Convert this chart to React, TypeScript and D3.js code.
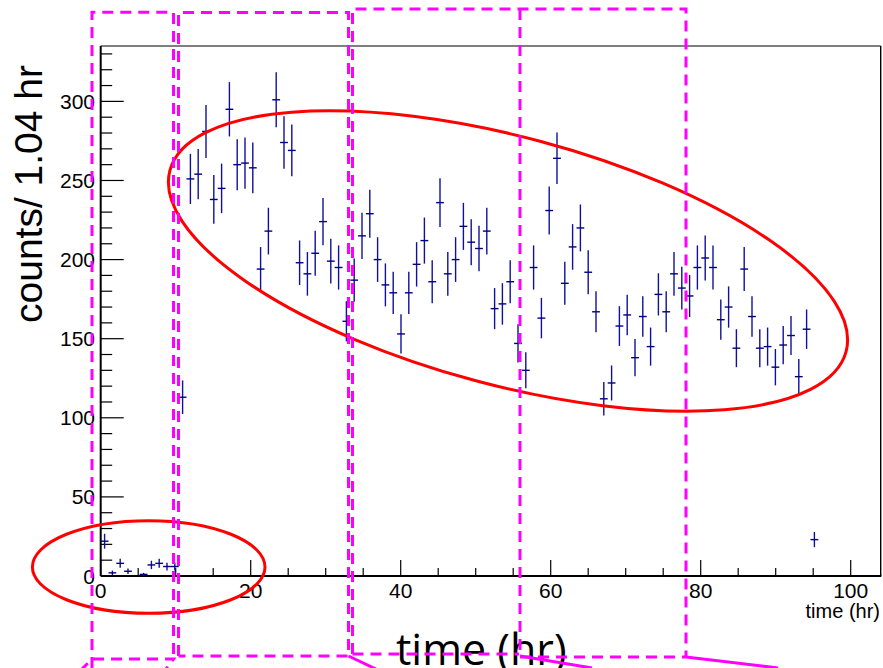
import React from "react";
import * as d3 from "d3";

// Histogram: counts per 1.04 hr bin, starting at t = 0
const binWidth = 1.04;
const counts = [
  22, 2, 8, 3, 0, 1, 7, 8, 6, 6,
  113, 251, 254, 281, 238, 245, 295, 260, 261, 258,
  194, 218, 301, 274, 269, 198, 191, 204, 224, 199,
  195, 161, 187, 215, 229, 200, 184, 179, 153, 179,
  197, 212, 186, 236, 191, 200, 221, 211, 207, 218,
  169, 172, 186, 147, 130, 195, 163, 231, 264, 185,
  208, 220, 192, 167, 112, 122, 158, 165, 138, 164,
  145, 178, 167, 191, 182, 177, 195, 201, 195, 162,
  170, 144, 194, 164, 144, 145, 132, 146, 152, 126,
  156, 23,
];

const xMajorTicks = [0, 20, 40, 60, 80, 100];
const yMajorTicks = [0, 50, 100, 150, 200, 250, 300];
const xTitle = "time (hr)";
const yTitle = "counts/ 1.04 hr";

const W = 883;
const H = 668;

const x = d3.scaleLinear().domain([0, 104]).range([100.7, 880.7]);
const y = d3.scaleLinear().domain([0, 335]).range([576, 46]);

const xMinor = d3.range(0, 101, 5).filter((v) => v % 20 !== 0);
const yMinor = d3.range(0, 331, 10).filter((v) => v % 50 !== 0);

const MAGENTA = "#ff00ff";
const DASH = "11 7";

export default function App() {
  const [x0, x1] = x.range();
  const [yb, yt] = y.range();

  const bins = counts.map((c, i) => ({
    lo: i * binWidth,
    hi: (i + 1) * binWidth,
    mid: (i + 0.5) * binWidth,
    c,
    err: Math.sqrt(c),
  }));

  // Large rotated ellipse around the plateau region
  const bigEllipse = { cx: 508, cy: 261, rx: 350, ry: 124, angle: 15 };
  const smallEllipse = { cx: 148.7, cy: 567, rx: 116.3, ry: 46.3 };

  const font = "'Liberation Sans', Arial, Helvetica, sans-serif";

  return (
    <svg
      width={W}
      height={H}
      style={{ position: "absolute", left: 0, top: 0, background: "#fff" }}
    >
      <rect x={0} y={0} width={W} height={H} fill="#fff" />

      {/* frame */}
      <line x1={x0} y1={yt} x2={x1} y2={yt} stroke="#000" strokeWidth={1.2} />
      <line x1={x1} y1={yt} x2={x1} y2={yb} stroke="#000" strokeWidth={1.4} />
      <line x1={x0} y1={yb} x2={x1 + 0.7} y2={yb} stroke="#000" strokeWidth={2} />
      <line x1={x0} y1={yb} x2={x0} y2={yt} stroke="#000" strokeWidth={2} />

      {/* y ticks */}
      {yMajorTicks.map((v) => (
        <line key={"ym" + v} x1={x0} x2={x0 + 23} y1={y(v)} y2={y(v)} stroke="#000" strokeWidth={1.2} />
      ))}
      {yMinor.map((v) => (
        <line key={"yn" + v} x1={x0} x2={x0 + 11.5} y1={y(v)} y2={y(v)} stroke="#000" strokeWidth={1.2} />
      ))}
      {yMajorTicks.map((v) => (
        <text
          key={"yl" + v}
          x={95}
          y={y(v) + 7.5}
          textAnchor="end"
          fontFamily={font}
          fontSize={21}
          fill="#000"
        >
          {v}
        </text>
      ))}

      {/* x ticks */}
      {xMajorTicks.map((v) => (
        <line key={"xm" + v} x1={x(v)} x2={x(v)} y1={yb} y2={yb - 16} stroke="#000" strokeWidth={1.2} />
      ))}
      {xMinor.map((v) => (
        <line key={"xn" + v} x1={x(v)} x2={x(v)} y1={yb} y2={yb - 8} stroke="#000" strokeWidth={1.2} />
      ))}
      {xMajorTicks.map((v) => (
        <text
          key={"xl" + v}
          x={x(v)}
          y={598}
          textAnchor="middle"
          fontFamily={font}
          fontSize={21}
          fill="#000"
        >
          {v}
        </text>
      ))}

      {/* small axis title */}
      <text x={880} y={618} textAnchor="end" fontFamily={font} fontSize={20} fill="#000">
        {xTitle}
      </text>

      {/* data points with error bars */}
      <g stroke="#10109a" strokeWidth={1.4}>
        {bins
          .filter((b) => b.c > 0)
          .map((b, i) => (
            <g key={i}>
              <line x1={x(b.mid)} x2={x(b.mid)} y1={y(b.c - b.err)} y2={y(b.c + b.err)} />
              <line x1={x(b.lo)} x2={x(b.hi)} y1={y(b.c)} y2={y(b.c)} stroke="#000080" />
            </g>
          ))}
      </g>

      {/* highlight ellipses */}
      <ellipse
        cx={bigEllipse.cx}
        cy={bigEllipse.cy}
        rx={bigEllipse.rx}
        ry={bigEllipse.ry}
        transform={`rotate(${bigEllipse.angle} ${bigEllipse.cx} ${bigEllipse.cy})`}
        fill="none"
        stroke="#ff0000"
        strokeWidth={3}
      />
      <ellipse
        cx={smallEllipse.cx}
        cy={smallEllipse.cy}
        rx={smallEllipse.rx}
        ry={smallEllipse.ry}
        fill="none"
        stroke="#ff0000"
        strokeWidth={3}
      />

      {/* y title */}
      <text
        transform={`translate(42, 194) rotate(-90)`}
        textAnchor="middle"
        fontFamily={font}
        fontSize={39}
        fill="#000"
      >
        {yTitle}
      </text>

      {/* large axis title */}
      <text x={396} y={665} fontFamily="'Open Sans', 'Noto Sans', sans-serif" fontSize={43} fill="#000">
        {xTitle}
      </text>

      {/* time-window boxes */}
      <g fill="none" stroke={MAGENTA} strokeWidth={3} strokeDasharray={DASH}>
        <path d="M92,668 L92,12.3 L173.5,12.3 L173.5,659" />
        <path d="M80,671 L92,659 L173.5,659 L166,669" />
        <path d="M178.5,656 L178.5,12.5 L348.5,12.5 L348.5,656 L178.5,656" />
        <path d="M352.5,654 L352.5,9 L686,9 L686,657" />
        <path d="M352.5,654 L519,654" />
        <path d="M520,9 L520,657 L686,657" />
      </g>
      <g fill="none" stroke={MAGENTA} strokeWidth={3}>
        <path d="M348.5,656 L376,669" />
        <path d="M520,656 L592,668" />
        <path d="M686,657 L778,668" />
      </g>
    </svg>
  );
}
